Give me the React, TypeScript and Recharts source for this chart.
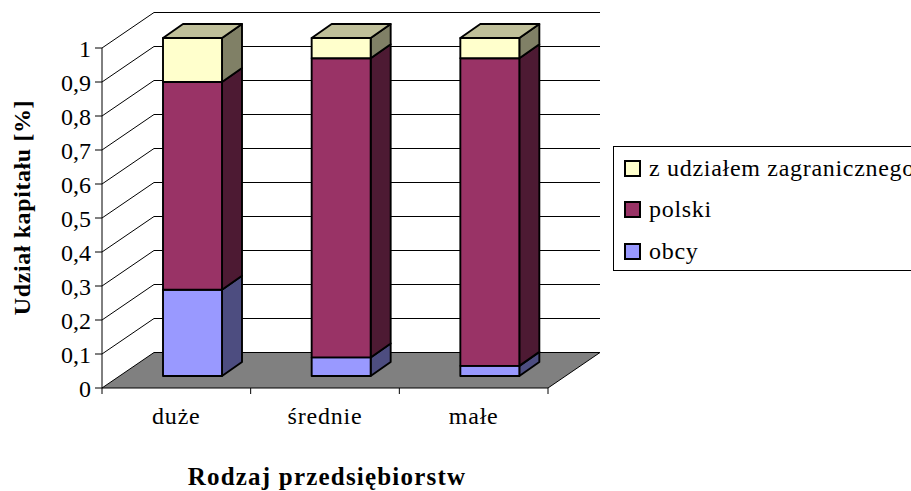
import React from "react";
import { BarChart, Bar, XAxis, YAxis, CartesianGrid, Legend } from "recharts";

const categories = ["duże", "średnie", "małe"];
const obcy = [0.255, 0.055, 0.03];
const polski = [0.615, 0.885, 0.91];
const zagraniczny = [0.13, 0.06, 0.06];
const yTicks = [0, 0.1, 0.2, 0.3, 0.4, 0.5, 0.6, 0.7, 0.8, 0.9, 1];

const data = categories.map((name, i) => ({
  name,
  obcy: obcy[i],
  polski: polski[i],
  zagraniczny: zagraniczny[i],
}));

const W = 911;
const H = 491;
const LEFT = 102;
const RIGHT = 548;
const TOP = 48;
const BOTTOM = 388;
const WALL_DX = 52;
const WALL_DY = 35.5;
const BAR_DX = 16;
const BAR_DY = 12;
const BAR_DEPTH_X = 20;
const BAR_DEPTH_Y = 14;
const BAR_SCALE = 338 / 340;
const FONT = '"Liberation Serif", serif';

const mapY = (y: number) => BOTTOM - BAR_DY - (BOTTOM - y) * BAR_SCALE;

function makeShape(side: string, top?: string) {
  return function Shape(p: any) {
    const x0 = p.x + BAR_DX;
    const x1 = x0 + p.width;
    const yt = mapY(p.y);
    const yb = mapY(p.y + p.height);
    const dx = BAR_DEPTH_X;
    const dy = BAR_DEPTH_Y;
    const common = { stroke: "#000", strokeWidth: 1.9, strokeLinejoin: "round" as const };
    return (
      <g>
        <polygon points={`${x1},${yt} ${x1 + dx},${yt - dy} ${x1 + dx},${yb - dy} ${x1},${yb}`} fill={side} {...common} />
        {top ? (
          <polygon points={`${x0},${yt} ${x0 + dx},${yt - dy} ${x1 + dx},${yt - dy} ${x1},${yt}`} fill={top} {...common} />
        ) : null}
        <rect x={x0} y={yt} width={p.width} height={yb - yt} fill={p.fill} {...common} />
      </g>
    );
  };
}

function gridLine(p: any) {
  const { x1, x2, y1 } = p;
  const bx1 = x1 + WALL_DX;
  const bx2 = x2 + WALL_DX;
  const by = y1 - WALL_DY;
  const isFloor = Math.abs(y1 - BOTTOM) < 0.5;
  return (
    <g key={`g-${y1}`}>
      {isFloor ? (
        <polygon points={`${x1},${y1} ${bx1},${by} ${bx2},${by} ${x2},${y1}`} fill="#808080" stroke="#000" strokeWidth={1} />
      ) : (
        <>
          <line x1={x1} y1={y1} x2={bx1} y2={by} stroke="#000" strokeWidth={1} />
          <line x1={bx1} y1={by} x2={bx2} y2={by} stroke="#000" strokeWidth={1} />
        </>
      )}
    </g>
  );
}

function XTick(p: any) {
  const { x, payload, index } = p;
  const step = (RIGHT - LEFT) / categories.length;
  return (
    <g>
      <line x1={x - step / 2} x2={x - step / 2} y1={BOTTOM} y2={BOTTOM + 6} stroke="#000" />
      {index === categories.length - 1 ? (
        <line x1={x + step / 2} x2={x + step / 2} y1={BOTTOM} y2={BOTTOM + 6} stroke="#000" />
      ) : null}
      <text x={x} y={424} textAnchor="middle" fontFamily={FONT} fontSize={24} letterSpacing={0.8} fill="#000">
        {payload.value}
      </text>
    </g>
  );
}

function XTitle() {
  return (
    <text x={327} y={485} textAnchor="middle" fontFamily={FONT} fontSize={25} fontWeight="bold" letterSpacing={1.2} fill="#000">
      Rodzaj przedsiębiorstw
    </text>
  );
}

function YTitle() {
  return (
    <text x={30} y={207.5} textAnchor="middle" transform="rotate(-90 30 207.5)" fontFamily={FONT} fontSize={24} fontWeight="bold" letterSpacing={0.6} fill="#000">
      Udział kapitału [%]
    </text>
  );
}

function LegendBox(props: any) {
  const items = [...(props.payload || [])].reverse();
  return (
    <div style={{ width: 320, height: 125, border: "1px solid #000", boxSizing: "border-box", background: "#fff", position: "relative", fontFamily: FONT, fontSize: 24, color: "#000" }}>
      {items.map((it: any, i: number) => (
        <div key={it.value} style={{ position: "absolute", left: 0, top: i * 41.5, height: 42, display: "flex", alignItems: "center", whiteSpace: "nowrap" }}>
          <span style={{ display: "inline-block", marginLeft: 10, width: 17, height: 17, boxSizing: "border-box", border: "2px solid #000", background: it.color }} />
          <span style={{ marginLeft: 8, letterSpacing: 0.7 }}>{it.value}</span>
        </div>
      ))}
    </div>
  );
}

export default function App() {
  return (
    <div style={{ position: "absolute", left: 0, top: 0, width: W, height: H, overflow: "hidden", background: "#fff" }}>
      <BarChart
        width={W}
        height={H}
        data={data}
        barSize={59}
        margin={{ top: TOP, left: 0, right: W - RIGHT, bottom: 0 }}
      >
        <CartesianGrid horizontal={gridLine} vertical={false} />
        <XAxis
          dataKey="name"
          height={H - BOTTOM}
          tick={XTick}
          tickLine={false}
          axisLine={false}
          interval={0}
          label={{ content: XTitle }}
        />
        <YAxis
          width={LEFT}
          domain={[0, 1]}
          ticks={yTicks}
          interval={0}
          tickFormatter={(v: number) => String(v).replace(".", ",")}
          tick={{ fontFamily: FONT, fontSize: 24, fill: "#000" }}
          tickSize={7}
          tickMargin={4}
          tickLine={{ stroke: "#000" }}
          axisLine={{ stroke: "#000" }}
          label={{ content: YTitle }}
        />
        <Legend
          layout="horizontal"
          verticalAlign="middle"
          align="center"
          content={LegendBox}
          wrapperStyle={{ position: "absolute", left: 613, top: 146, width: 320, height: 125 }}
        />
        <Bar dataKey="obcy" name="obcy" stackId="a" fill="#9999FF" isAnimationActive={false} shape={makeShape("#4D4D80")} />
        <Bar dataKey="polski" name="polski" stackId="a" fill="#993366" isAnimationActive={false} shape={makeShape("#4D1A33")} />
        <Bar dataKey="zagraniczny" name="z udziałem zagranicznego" stackId="a" fill="#FFFFCC" isAnimationActive={false} shape={makeShape("#808066", "#BFBF99")} />
      </BarChart>
    </div>
  );
}
